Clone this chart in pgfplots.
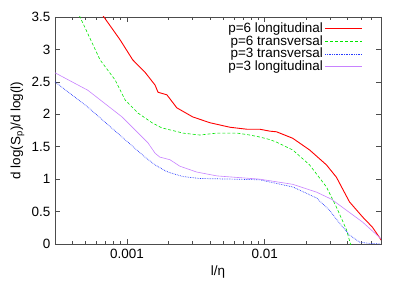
\documentclass[border=0pt]{standalone}
\usepackage{fontspec}
\setmainfont{Liberation Sans}
\usepackage{pgfplots}
\pgfplotsset{compat=1.18}
\definecolor{gred}{RGB}{255,0,0}
\definecolor{ggreen}{RGB}{0,230,0}
\definecolor{gblue}{RGB}{40,60,255}
\definecolor{gviolet}{RGB}{200,130,255}
\begin{document}
\fontsize{13.5}{15}\selectfont
\begin{tikzpicture}
\path[use as bounding box] (0,0) rectangle (407bp,285bp);
\begin{axis}[
  at={(55bp,41bp)}, anchor=south west,
  scale only axis, width=326bp, height=227bp,
  xmode=log, xmin=0.0003, xmax=0.07, ymin=0, ymax=3.5,
  xtick={0.001,0.01}, xticklabels={0.001,0.01},
  minor xtick={0.0003,0.0004,0.0005,0.0006,0.0007,0.0008,0.0009,0.002,0.003,0.004,0.005,0.006,0.007,0.008,0.009,0.02,0.03,0.04,0.05,0.06,0.07},
  ytick={0,0.5,1,1.5,2,2.5,3,3.5},
  yticklabels={0,0.5,1,1.5,2,2.5,3,3.5},
  tick align=inside,
  major tick length=5bp, minor tick length=3bp,
  tick style={black!70, line width=0.6pt},
  axis line style={black!70, line width=0.8pt},
  xlabel={l/η}, ylabel={d log(S$_{\mathrm{p}}$)/d log(l)},
  xlabel style={yshift=2bp},
  ylabel style={yshift=-2bp},
  legend style={draw=none, fill=none, at={(0.948,1.0435)}, anchor=north east, row sep=-3.2bp, font=\fontsize{13.5}{14}\selectfont, inner sep=1pt},
  legend cell align=right,
  legend plot pos=right,
  legend image code/.code={\draw[#1] (0bp,0bp) -- (37bp,0bp);},
  clip=true,
]
\addlegendimage{legend image code/.code={\draw[line width=0.01bp] (36.99bp,0bp) -- (37bp,0bp);}}
\addlegendentry{\strut}
\addplot[color=gred, line width=0.9pt] coordinates {
(0.00062,3.62) (0.00068,3.50) (0.00089,3.15) (0.0011,2.84) (0.00135,2.65) (0.0016,2.45)
(0.00168,2.34) (0.00195,2.30) (0.0023,2.10) (0.003,1.96) (0.004,1.87) (0.0056,1.80)
(0.0074,1.77) (0.0092,1.77) (0.0109,1.74) (0.0122,1.73) (0.016,1.63) (0.0212,1.45)
(0.0281,1.22) (0.0332,1.03) (0.0413,0.65) (0.0513,0.42) (0.0606,0.26) (0.0693,0.08) (0.07,0.06)};
\addlegendentry{p=6 longitudinal}
\addplot[color=ggreen, line width=0.6pt, densely dashed] coordinates {
(0.00042,3.66) (0.000456,3.5) (0.000637,2.84) (0.00082,2.53) (0.00097,2.22) (0.0012,2.02)
(0.00152,1.87) (0.00179,1.79) (0.00205,1.76) (0.00255,1.71) (0.00338,1.68) (0.0045,1.71)
(0.0063,1.71) (0.0078,1.68) (0.0092,1.65) (0.0109,1.61) (0.0122,1.57) (0.016,1.45)
(0.0212,1.22) (0.0281,0.88) (0.0332,0.57) (0.0393,0.22) (0.042,0.0) (0.044,-0.1)};
\addlegendentry{p=6 transversal}
\addplot[color=gblue, line width=0.7pt, densely dotted] coordinates {
(0.0003,2.50) (0.00052,2.11) (0.00092,1.65) (0.00135,1.34) (0.0016,1.22) (0.00189,1.13)
(0.00205,1.10) (0.00255,1.04) (0.00338,1.01) (0.0059,1.00) (0.0092,0.99) (0.016,0.88)
(0.0238,0.71) (0.0296,0.52) (0.035,0.32) (0.0413,0.14) (0.0488,0.03) (0.0577,0.01) (0.07,0.0)};
\addlegendentry{p=3 transversal}
\addplot[color=gviolet, line width=0.6pt] coordinates {
(0.0003,2.64) (0.00052,2.37) (0.00092,1.96) (0.00142,1.56) (0.0016,1.40) (0.00173,1.34)
(0.00205,1.30) (0.00242,1.20) (0.0032,1.11) (0.0045,1.05) (0.0069,1.02) (0.0092,1.00)
(0.016,0.92) (0.0238,0.80) (0.0306,0.69) (0.0393,0.52) (0.0513,0.34) (0.0693,0.09) (0.07,0.08)};
\addlegendentry{p=3 longitudinal}
\end{axis}
\end{tikzpicture}
\end{document}
